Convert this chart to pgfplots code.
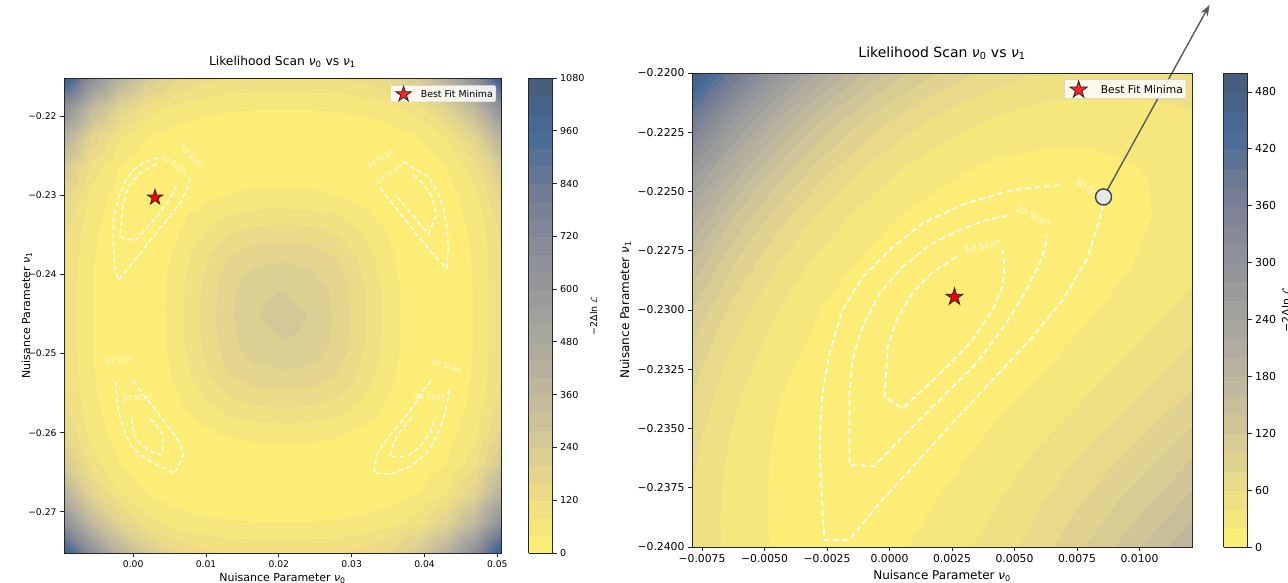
\documentclass[border=0pt]{standalone}
\usepackage{fontspec}
\setmainfont{DejaVu Sans}
\usepackage{pgfplots}
\pgfplotsset{compat=1.18}
\usetikzlibrary{arrows.meta}

% cividis reversed, seen through alpha 0.72 on white
\pgfplotsset{
  colormap={civr}{rgb255=(252,237,118) rgb255=(236,220,137) rgb255=(213,202,149)
    rgb255=(191,184,156) rgb255=(171,169,159) rgb255=(152,153,154) rgb255=(134,138,150)
    rgb255=(112,123,148) rgb255=(71,108,151) rgb255=(71,94,127)},
  lkh/.style={scale only axis, axis on top, colormap name=civr, tick pos=left,
    scaled ticks=false, tick align=outside, major tick length=4pt,
    tick style={black!85, line width=0.8pt}, axis line style={black!85, line width=0.8pt},
    clip mode=individual, legend cell align=left},
  cbar/.style={scale only axis, scaled ticks=false,
    ytick pos=right, yticklabel pos=right, tick align=outside, major tick length=4pt,
    tick style={black!85, line width=0.8pt}, axis line style={black!85, line width=0.8pt}},
  scan/.style={white, opacity=0.92, line width=1.5pt, dash pattern=on 5pt off 3pt, forget plot},
}
\pgfdeclareplotmark{fstar}{%
  \pgfpathmoveto{\pgfpointpolar{90}{\pgfplotmarksize}}%
  \pgfpathlineto{\pgfpointpolar{126}{0.382\pgfplotmarksize}}%
  \pgfpathlineto{\pgfpointpolar{162}{\pgfplotmarksize}}%
  \pgfpathlineto{\pgfpointpolar{198}{0.382\pgfplotmarksize}}%
  \pgfpathlineto{\pgfpointpolar{234}{\pgfplotmarksize}}%
  \pgfpathlineto{\pgfpointpolar{270}{0.382\pgfplotmarksize}}%
  \pgfpathlineto{\pgfpointpolar{306}{\pgfplotmarksize}}%
  \pgfpathlineto{\pgfpointpolar{342}{0.382\pgfplotmarksize}}%
  \pgfpathlineto{\pgfpointpolar{18}{\pgfplotmarksize}}%
  \pgfpathlineto{\pgfpointpolar{54}{0.382\pgfplotmarksize}}%
  \pgfpathclose\pgfusepathqfillstroke}

\begin{document}
\begin{tikzpicture}[x=1pt,y=1pt]

% ---------------- left: full scan ----------------
\begin{scope}[xshift=64pt, yshift=30pt]
\begin{axis}[lkh, anchor=south west, width=437pt, height=475pt,
  xmin=-0.0095, xmax=0.0505, ymin=-0.2752, ymax=-0.2152,
  point meta min=0, point meta max=1080,
  xtick={0,0.01,0.02,0.03,0.04,0.05}, xticklabels={0.00,0.01,0.02,0.03,0.04,0.05},
  ytick={-0.27,-0.26,-0.25,-0.24,-0.23,-0.22},
  yticklabels={−0.27,−0.26,−0.25,−0.24,−0.23,−0.22},
  ticklabel style={font=\fontsize{9.2}{10}\selectfont},
  colorbar sampled, colorbar style={cbar, at={(parent axis.north east)}, anchor=north west,
    xshift=19pt, width=24pt, height=475pt, samples=28,
    ytick={0,120,240,360,480,600,720,840,960,1080},
    yticklabels={0,120,240,360,480,600,720,840,960,1080},
    yticklabel style={font=\fontsize{9.6}{10}\selectfont}},
  legend style={at={(0.9886,0.985)}, anchor=north east,
    draw=black!20, fill=white, fill opacity=0.85, text opacity=1, rounded corners=2pt,
    font=\fontsize{9.4}{10}\selectfont, inner xsep=1pt, inner ysep=1pt},
  legend image code/.code={\path (0pt,-4pt) (27pt,4pt);
    \draw[#1] plot coordinates {(12pt,0pt)};},
]
\addplot[contour filled={number=27}, point meta=explicit, mesh/rows=17, mesh/cols=17, forget plot]
  table[row sep=\\, x index=0, y index=1, meta index=2] {
-0.0095 -0.2752 1070\\ -0.00575 -0.2752 671\\ -0.002 -0.2752 412\\ 0.00175 -0.2752 255\\ 0.0055 -0.2752 171\\ 0.00925 -0.2752 132\\ 0.013 -0.2752 117\\ 0.01675 -0.2752 113\\ 0.0205 -0.2752 113\\ 0.02425 -0.2752 113\\ 0.028 -0.2752 117\\ 0.03175 -0.2752 132\\ 0.0355 -0.2752 171\\ 0.03925 -0.2752 255\\ 0.043 -0.2752 412\\ 0.04675 -0.2752 671\\ 0.0505 -0.2752 1070\\
-0.0095 -0.27145 671\\ -0.00575 -0.27145 366\\ -0.002 -0.27145 190\\ 0.00175 -0.27145 102\\ 0.0055 -0.27145 67\\ 0.00925 -0.27145 52\\ 0.013 -0.27145 45\\ 0.01675 -0.27145 42\\ 0.0205 -0.27145 42\\ 0.02425 -0.27145 42\\ 0.028 -0.27145 45\\ 0.03175 -0.27145 52\\ 0.0355 -0.27145 67\\ 0.03925 -0.27145 102\\ 0.043 -0.27145 190\\ 0.04675 -0.27145 366\\ 0.0505 -0.27145 671\\
-0.0095 -0.2677 412\\ -0.00575 -0.2677 190\\ -0.002 -0.2677 83\\ 0.00175 -0.2677 41\\ 0.0055 -0.2677 21\\ 0.00925 -0.2677 11\\ 0.013 -0.2677 7\\ 0.01675 -0.2677 6\\ 0.0205 -0.2677 5\\ 0.02425 -0.2677 6\\ 0.028 -0.2677 7\\ 0.03175 -0.2677 11\\ 0.0355 -0.2677 21\\ 0.03925 -0.2677 41\\ 0.043 -0.2677 83\\ 0.04675 -0.2677 190\\ 0.0505 -0.2677 412\\
-0.0095 -0.26395 255\\ -0.00575 -0.26395 102\\ -0.002 -0.26395 41\\ 0.00175 -0.26395 13\\ 0.0055 -0.26395 2\\ 0.00925 -0.26395 0\\ 0.013 -0.26395 4\\ 0.01675 -0.26395 6\\ 0.0205 -0.26395 6\\ 0.02425 -0.26395 6\\ 0.028 -0.26395 4\\ 0.03175 -0.26395 0\\ 0.0355 -0.26395 2\\ 0.03925 -0.26395 13\\ 0.043 -0.26395 41\\ 0.04675 -0.26395 102\\ 0.0505 -0.26395 255\\
-0.0095 -0.2602 171\\ -0.00575 -0.2602 67\\ -0.002 -0.2602 21\\ 0.00175 -0.2602 2\\ 0.0055 -0.2602 5\\ 0.00925 -0.2602 26\\ 0.013 -0.2602 44\\ 0.01675 -0.2602 53\\ 0.0205 -0.2602 54\\ 0.02425 -0.2602 53\\ 0.028 -0.2602 44\\ 0.03175 -0.2602 26\\ 0.0355 -0.2602 5\\ 0.03925 -0.2602 2\\ 0.043 -0.2602 21\\ 0.04675 -0.2602 67\\ 0.0505 -0.2602 171\\
-0.0095 -0.25645 132\\ -0.00575 -0.25645 52\\ -0.002 -0.25645 11\\ 0.00175 -0.25645 0\\ 0.0055 -0.25645 26\\ 0.00925 -0.25645 68\\ 0.013 -0.25645 104\\ 0.01675 -0.25645 121\\ 0.0205 -0.25645 124\\ 0.02425 -0.25645 121\\ 0.028 -0.25645 104\\ 0.03175 -0.25645 68\\ 0.0355 -0.25645 26\\ 0.03925 -0.25645 0\\ 0.043 -0.25645 11\\ 0.04675 -0.25645 52\\ 0.0505 -0.25645 132\\
-0.0095 -0.2527 117\\ -0.00575 -0.2527 45\\ -0.002 -0.2527 7\\ 0.00175 -0.2527 4\\ 0.0055 -0.2527 44\\ 0.00925 -0.2527 104\\ 0.013 -0.2527 157\\ 0.01675 -0.2527 186\\ 0.0205 -0.2527 191\\ 0.02425 -0.2527 186\\ 0.028 -0.2527 157\\ 0.03175 -0.2527 104\\ 0.0355 -0.2527 44\\ 0.03925 -0.2527 4\\ 0.043 -0.2527 7\\ 0.04675 -0.2527 45\\ 0.0505 -0.2527 117\\
-0.0095 -0.24895 113\\ -0.00575 -0.24895 42\\ -0.002 -0.24895 6\\ 0.00175 -0.24895 6\\ 0.0055 -0.24895 53\\ 0.00925 -0.24895 121\\ 0.013 -0.24895 186\\ 0.01675 -0.24895 228\\ 0.0205 -0.24895 238\\ 0.02425 -0.24895 228\\ 0.028 -0.24895 186\\ 0.03175 -0.24895 121\\ 0.0355 -0.24895 53\\ 0.03925 -0.24895 6\\ 0.043 -0.24895 6\\ 0.04675 -0.24895 42\\ 0.0505 -0.24895 113\\
-0.0095 -0.2452 113\\ -0.00575 -0.2452 42\\ -0.002 -0.2452 5\\ 0.00175 -0.2452 6\\ 0.0055 -0.2452 54\\ 0.00925 -0.2452 124\\ 0.013 -0.2452 191\\ 0.01675 -0.2452 238\\ 0.0205 -0.2452 255\\ 0.02425 -0.2452 238\\ 0.028 -0.2452 191\\ 0.03175 -0.2452 124\\ 0.0355 -0.2452 54\\ 0.03925 -0.2452 6\\ 0.043 -0.2452 5\\ 0.04675 -0.2452 42\\ 0.0505 -0.2452 113\\
-0.0095 -0.24145 113\\ -0.00575 -0.24145 42\\ -0.002 -0.24145 6\\ 0.00175 -0.24145 6\\ 0.0055 -0.24145 53\\ 0.00925 -0.24145 121\\ 0.013 -0.24145 186\\ 0.01675 -0.24145 228\\ 0.0205 -0.24145 238\\ 0.02425 -0.24145 228\\ 0.028 -0.24145 186\\ 0.03175 -0.24145 121\\ 0.0355 -0.24145 53\\ 0.03925 -0.24145 6\\ 0.043 -0.24145 6\\ 0.04675 -0.24145 42\\ 0.0505 -0.24145 113\\
-0.0095 -0.2377 117\\ -0.00575 -0.2377 45\\ -0.002 -0.2377 7\\ 0.00175 -0.2377 4\\ 0.0055 -0.2377 44\\ 0.00925 -0.2377 104\\ 0.013 -0.2377 157\\ 0.01675 -0.2377 186\\ 0.0205 -0.2377 191\\ 0.02425 -0.2377 186\\ 0.028 -0.2377 157\\ 0.03175 -0.2377 104\\ 0.0355 -0.2377 44\\ 0.03925 -0.2377 4\\ 0.043 -0.2377 7\\ 0.04675 -0.2377 45\\ 0.0505 -0.2377 117\\
-0.0095 -0.23395 132\\ -0.00575 -0.23395 52\\ -0.002 -0.23395 11\\ 0.00175 -0.23395 0\\ 0.0055 -0.23395 26\\ 0.00925 -0.23395 68\\ 0.013 -0.23395 104\\ 0.01675 -0.23395 121\\ 0.0205 -0.23395 124\\ 0.02425 -0.23395 121\\ 0.028 -0.23395 104\\ 0.03175 -0.23395 68\\ 0.0355 -0.23395 26\\ 0.03925 -0.23395 0\\ 0.043 -0.23395 11\\ 0.04675 -0.23395 52\\ 0.0505 -0.23395 132\\
-0.0095 -0.2302 171\\ -0.00575 -0.2302 67\\ -0.002 -0.2302 21\\ 0.00175 -0.2302 2\\ 0.0055 -0.2302 5\\ 0.00925 -0.2302 26\\ 0.013 -0.2302 44\\ 0.01675 -0.2302 53\\ 0.0205 -0.2302 54\\ 0.02425 -0.2302 53\\ 0.028 -0.2302 44\\ 0.03175 -0.2302 26\\ 0.0355 -0.2302 5\\ 0.03925 -0.2302 2\\ 0.043 -0.2302 21\\ 0.04675 -0.2302 67\\ 0.0505 -0.2302 171\\
-0.0095 -0.22645 255\\ -0.00575 -0.22645 102\\ -0.002 -0.22645 41\\ 0.00175 -0.22645 13\\ 0.0055 -0.22645 2\\ 0.00925 -0.22645 0\\ 0.013 -0.22645 4\\ 0.01675 -0.22645 6\\ 0.0205 -0.22645 6\\ 0.02425 -0.22645 6\\ 0.028 -0.22645 4\\ 0.03175 -0.22645 0\\ 0.0355 -0.22645 2\\ 0.03925 -0.22645 13\\ 0.043 -0.22645 41\\ 0.04675 -0.22645 102\\ 0.0505 -0.22645 255\\
-0.0095 -0.2227 412\\ -0.00575 -0.2227 190\\ -0.002 -0.2227 83\\ 0.00175 -0.2227 41\\ 0.0055 -0.2227 21\\ 0.00925 -0.2227 11\\ 0.013 -0.2227 7\\ 0.01675 -0.2227 6\\ 0.0205 -0.2227 5\\ 0.02425 -0.2227 6\\ 0.028 -0.2227 7\\ 0.03175 -0.2227 11\\ 0.0355 -0.2227 21\\ 0.03925 -0.2227 41\\ 0.043 -0.2227 83\\ 0.04675 -0.2227 190\\ 0.0505 -0.2227 412\\
-0.0095 -0.21895 671\\ -0.00575 -0.21895 366\\ -0.002 -0.21895 190\\ 0.00175 -0.21895 102\\ 0.0055 -0.21895 67\\ 0.00925 -0.21895 52\\ 0.013 -0.21895 45\\ 0.01675 -0.21895 42\\ 0.0205 -0.21895 42\\ 0.02425 -0.21895 42\\ 0.028 -0.21895 45\\ 0.03175 -0.21895 52\\ 0.0355 -0.21895 67\\ 0.03925 -0.21895 102\\ 0.043 -0.21895 190\\ 0.04675 -0.21895 366\\ 0.0505 -0.21895 671\\
-0.0095 -0.2152 1070\\ -0.00575 -0.2152 671\\ -0.002 -0.2152 412\\ 0.00175 -0.2152 255\\ 0.0055 -0.2152 171\\ 0.00925 -0.2152 132\\ 0.013 -0.2152 117\\ 0.01675 -0.2152 113\\ 0.0205 -0.2152 113\\ 0.02425 -0.2152 113\\ 0.028 -0.2152 117\\ 0.03175 -0.2152 132\\ 0.0355 -0.2152 171\\ 0.03925 -0.2152 255\\ 0.043 -0.2152 412\\ 0.04675 -0.2152 671\\ 0.0505 -0.2152 1070\\
};
% scan contours, top left
\addplot[scan] coordinates {(0.003447,-0.225267) (0.00162,-0.22577) (0.00001,-0.22682) (-0.001126,-0.2283) (-0.002046,-0.2304) (-0.002732,-0.23314) (-0.002732,-0.23651) (-0.002499,-0.23904) (-0.002046,-0.24072) (-0.000893,-0.23945) (0.000934,-0.23734) (0.00276,-0.23525) (0.0046,-0.23314) (0.006426,-0.23103) (0.007566,-0.22893) (0.0078,-0.22767)};
\addplot[scan] coordinates {(0.003227,-0.22598) (0.000934,-0.22724) (-0.000673,-0.22893) (-0.001359,-0.23103) (-0.001579,-0.23314) (-0.001812,-0.23525) (0.000247,-0.23575) (0.00162,-0.2344) (0.003227,-0.23272) (0.0046,-0.23103) (0.00574,-0.22935) (0.005973,-0.2285)};
% top right
\addplot[scan] coordinates {(0.037087,-0.22577) (0.038007,-0.22632) (0.04052,-0.22767) (0.041674,-0.22935) (0.04258,-0.23146) (0.043047,-0.23398) (0.043267,-0.23651) (0.043047,-0.23924) (0.041893,-0.23819) (0.0403,-0.23651) (0.03846,-0.2344) (0.036634,-0.23229) (0.034808,-0.23019) (0.033888,-0.22893)};
\addplot[scan] coordinates {(0.03846,-0.22745) (0.039833,-0.2285) (0.040987,-0.23019) (0.041674,-0.23251) (0.04052,-0.2349) (0.038927,-0.23314) (0.037321,-0.23146) (0.035948,-0.22985)};
% bottom left
\addplot[scan] coordinates {(-0.002362,-0.25356) (-0.002266,-0.25587) (-0.001812,-0.25798) (-0.001126,-0.26008) (-0.000206,-0.26177) (0.001387,-0.26304) (0.00368,-0.2643) (0.00574,-0.26513) (0.006879,-0.26282) (0.006426,-0.26134) (0.005506,-0.26008) (0.004133,-0.2584) (0.00276,-0.25672) (0.001387,-0.25524) (-0.000206,-0.25313)};
\addplot[scan] coordinates {(-0.000206,-0.25819) (0.00001,-0.26008) (0.000934,-0.26134) (0.002307,-0.2624) (0.003913,-0.26282) (0.004133,-0.26134) (0.003913,-0.26008) (0.002993,-0.25882) (0.002073,-0.25798)};
% bottom right
\addplot[scan] coordinates {(0.040891,-0.25347) (0.039834,-0.25461) (0.03846,-0.25672) (0.036634,-0.25882) (0.035028,-0.26051) (0.033655,-0.2624) (0.033202,-0.26387) (0.033064,-0.26513) (0.035495,-0.26522) (0.038007,-0.2643) (0.0403,-0.26261) (0.041893,-0.26008) (0.042813,-0.25755) (0.043267,-0.25546) (0.043404,-0.25427)};
\addplot[scan] coordinates {(0.038241,-0.25806) (0.036634,-0.25988) (0.035714,-0.26134) (0.035261,-0.26304) (0.037554,-0.26304) (0.03938,-0.26177) (0.040753,-0.26008) (0.041206,-0.25882) (0.04144,-0.25806)};
\begin{scope}[every node/.style={text=white, opacity=0.8, font=\fontsize{7.5}{8}\selectfont}]
\node[rotate=-43] at (axis cs:0.008115,-0.22514) {3\textit{σ} Scan};
\node[rotate=-36] at (axis cs:0.005602,-0.22606) {2\textit{σ} Scan};
\node[rotate=31] at (axis cs:0.033888,-0.22543) {3\textit{σ} Scan};
\node[rotate=35] at (axis cs:0.035165,-0.22724) {2\textit{σ} Scan};
\node[rotate=8] at (axis cs:-0.00195,-0.25082) {3\textit{σ} Scan};
\node[rotate=5] at (axis cs:0.000563,-0.25553) {2\textit{σ} Scan};
\node[rotate=-18] at (axis cs:0.043047,-0.25154) {3\textit{σ} Scan};
\node[rotate=0] at (axis cs:0.040753,-0.25546) {2\textit{σ} Scan};
\end{scope}
\addplot[only marks, mark=fstar, mark size=8pt, mark options={fill=red, draw=black!85, line width=0.8pt}]
  coordinates {(0.003,-0.2303)};
\addlegendentry{Best Fit Minima}
\end{axis}
\end{scope}

% ---------------- right: zoomed scan ----------------
\begin{scope}[xshift=692pt, yshift=36pt]
\begin{axis}[lkh, anchor=south west, width=500pt, height=474pt,
  xmin=-0.0079, xmax=0.0121, ymin=-0.24, ymax=-0.22,
  point meta min=0, point meta max=500,
  xtick={-0.0075,-0.005,-0.0025,0,0.0025,0.005,0.0075,0.01},
  xticklabels={−0.0075,−0.0050,−0.0025,0.0000,0.0025,0.0050,0.0075,0.0100},
  ytick={-0.24,-0.2375,-0.235,-0.2325,-0.23,-0.2275,-0.225,-0.2225,-0.22},
  yticklabels={−0.2400,−0.2375,−0.2350,−0.2325,−0.2300,−0.2275,−0.2250,−0.2225,−0.2200},
  ticklabel style={font=\fontsize{10.8}{12}\selectfont},
  colorbar sampled, colorbar style={cbar, at={(parent axis.north east)}, anchor=north west,
    xshift=23pt, width=24pt, height=474pt, samples=26,
    ytick={0,60,120,180,240,300,360,420,480},
    yticklabels={0,60,120,180,240,300,360,420,480},
    yticklabel style={font=\fontsize{11}{12}\selectfont}},
  legend style={at={(0.988,0.987)}, anchor=north east,
    draw=black!20, fill=white, fill opacity=0.85, text opacity=1, rounded corners=2pt,
    font=\fontsize{10.7}{12}\selectfont, inner xsep=1pt, inner ysep=1.5pt},
  legend image code/.code={\path (0pt,-4pt) (33pt,4pt);
    \draw[#1] plot coordinates {(13pt,0pt)};},
]
\addplot[contour filled={number=25}, point meta=explicit, mesh/rows=11, mesh/cols=13, forget plot]
  table[row sep=\\, x index=0, y index=1, meta index=2] {
-0.008 -0.22 499\\ -0.0063 -0.22 388\\ -0.0046 -0.22 291\\ -0.0029 -0.22 218\\ -0.0012 -0.22 163\\ 0.0005 -0.22 123\\ 0.0022 -0.22 94\\ 0.0039 -0.22 74\\ 0.0056 -0.22 61\\ 0.0073 -0.22 54\\ 0.009 -0.22 51\\ 0.0107 -0.22 52\\ 0.0124 -0.22 56\\
-0.008 -0.222 383\\ -0.0063 -0.222 279\\ -0.0046 -0.222 201\\ -0.0029 -0.222 144\\ -0.0012 -0.222 102\\ 0.0005 -0.222 72\\ 0.0022 -0.222 52\\ 0.0039 -0.222 39\\ 0.0056 -0.222 31\\ 0.0073 -0.222 28\\ 0.009 -0.222 29\\ 0.0107 -0.222 32\\ 0.0124 -0.222 38\\
-0.008 -0.224 285\\ -0.0063 -0.224 200\\ -0.0046 -0.224 138\\ -0.0029 -0.224 93\\ -0.0012 -0.224 61\\ 0.0005 -0.224 40\\ 0.0022 -0.224 26\\ 0.0039 -0.224 17\\ 0.0056 -0.224 14\\ 0.0073 -0.224 14\\ 0.009 -0.224 17\\ 0.0107 -0.224 22\\ 0.0124 -0.224 30\\
-0.008 -0.226 213\\ -0.0063 -0.226 143\\ -0.0046 -0.226 93\\ -0.0029 -0.226 58\\ -0.0012 -0.226 35\\ 0.0005 -0.226 19\\ 0.0022 -0.226 10\\ 0.0039 -0.226 6\\ 0.0056 -0.226 5\\ 0.0073 -0.226 8\\ 0.009 -0.226 13\\ 0.0107 -0.226 21\\ 0.0124 -0.226 30\\
-0.008 -0.228 160\\ -0.0063 -0.228 102\\ -0.0046 -0.228 62\\ -0.0029 -0.228 35\\ -0.0012 -0.228 18\\ 0.0005 -0.228 7\\ 0.0022 -0.228 2\\ 0.0039 -0.228 1\\ 0.0056 -0.228 3\\ 0.0073 -0.228 8\\ 0.009 -0.228 16\\ 0.0107 -0.228 26\\ 0.0124 -0.228 37\\
-0.008 -0.23 122\\ -0.0063 -0.23 74\\ -0.0046 -0.23 42\\ -0.0029 -0.23 21\\ -0.0012 -0.23 9\\ 0.0005 -0.23 2\\ 0.0022 -0.23 0\\ 0.0039 -0.23 2\\ 0.0056 -0.23 6\\ 0.0073 -0.23 14\\ 0.009 -0.23 24\\ 0.0107 -0.23 36\\ 0.0124 -0.23 50\\
-0.008 -0.232 95\\ -0.0063 -0.232 55\\ -0.0046 -0.232 29\\ -0.0029 -0.232 13\\ -0.0012 -0.232 4\\ 0.0005 -0.232 1\\ 0.0022 -0.232 2\\ 0.0039 -0.232 7\\ 0.0056 -0.232 14\\ 0.0073 -0.232 24\\ 0.009 -0.232 37\\ 0.0107 -0.232 51\\ 0.0124 -0.232 68\\
-0.008 -0.234 77\\ -0.0063 -0.234 43\\ -0.0046 -0.234 21\\ -0.0029 -0.234 9\\ -0.0012 -0.234 3\\ 0.0005 -0.234 3\\ 0.0022 -0.234 7\\ 0.0039 -0.234 15\\ 0.0056 -0.234 25\\ 0.0073 -0.234 38\\ 0.009 -0.234 54\\ 0.0107 -0.234 72\\ 0.0124 -0.234 92\\
-0.008 -0.236 66\\ -0.0063 -0.236 36\\ -0.0046 -0.236 18\\ -0.0029 -0.236 8\\ -0.0012 -0.236 5\\ 0.0005 -0.236 7\\ 0.0022 -0.236 14\\ 0.0039 -0.236 24\\ 0.0056 -0.236 39\\ 0.0073 -0.236 56\\ 0.009 -0.236 75\\ 0.0107 -0.236 96\\ 0.0124 -0.236 121\\
-0.008 -0.238 60\\ -0.0063 -0.238 33\\ -0.0046 -0.238 17\\ -0.0029 -0.238 9\\ -0.0012 -0.238 9\\ 0.0005 -0.238 13\\ 0.0022 -0.238 22\\ 0.0039 -0.238 35\\ 0.0056 -0.238 53\\ 0.0073 -0.238 74\\ 0.009 -0.238 98\\ 0.0107 -0.238 123\\ 0.0124 -0.238 152\\
-0.008 -0.24 58\\ -0.0063 -0.24 33\\ -0.0046 -0.24 18\\ -0.0029 -0.24 12\\ -0.0012 -0.24 13\\ 0.0005 -0.24 19\\ 0.0022 -0.24 30\\ 0.0039 -0.24 46\\ 0.0056 -0.24 66\\ 0.0073 -0.24 92\\ 0.009 -0.24 121\\ 0.0107 -0.24 152\\ 0.0124 -0.24 184\\
};
\addplot[scan, line width=1.8pt, dash pattern=on 6pt off 3.5pt] coordinates {(0.0068,-0.22473) (0.00492,-0.22494) (0.00308,-0.22549) (0.00132,-0.22633) (0,-0.22747) (-0.00108,-0.22861) (-0.00188,-0.23) (-0.0024,-0.23181) (-0.00268,-0.2335) (-0.0028,-0.23561) (-0.00272,-0.23772) (-0.0026,-0.2397) (-0.0016,-0.2397) (-0.0004,-0.23814) (0.00092,-0.23662) (0.00252,-0.23477) (0.00412,-0.23295) (0.00572,-0.23114) (0.00692,-0.22958) (0.00788,-0.22789) (0.0084,-0.2262) (0.0086,-0.22523)};
\addplot[scan, line width=1.8pt, dash pattern=on 6pt off 3.5pt] coordinates {(0.00472,-0.22603) (0.00388,-0.2262) (0.0028,-0.22662) (0.0016,-0.22726) (0.00052,-0.22819) (-0.0004,-0.22928) (-0.00108,-0.23072) (-0.00148,-0.23211) (-0.0016,-0.2335) (-0.0016,-0.23494) (-0.0016,-0.23654) (-0.0006,-0.23658) (0.00028,-0.23561) (0.0012,-0.23464) (0.00228,-0.2335) (0.00348,-0.23224) (0.00468,-0.23055) (0.00548,-0.22916) (0.00612,-0.22776) (0.00632,-0.22684)};
\addplot[scan, line width=1.8pt, dash pattern=on 6pt off 3.5pt] coordinates {(0.00268,-0.22776) (0.00172,-0.2284) (0.00092,-0.22928) (0.00028,-0.23042) (-0.00008,-0.23156) (-0.00012,-0.23241) (-0.0002,-0.23367) (0.00052,-0.23414) (0.00132,-0.23338) (0.00228,-0.23241) (0.00332,-0.23127) (0.00412,-0.23) (0.00452,-0.22903) (0.0046,-0.22819) (0.00452,-0.22747)};
\begin{scope}[every node/.style={text=white, opacity=0.8, font=\fontsize{9.3}{10}\selectfont}]
\node[rotate=12] at (axis cs:0.00372,-0.2273) {1\textit{σ} Scan};
\node[rotate=-24] at (axis cs:0.00576,-0.22603) {2\textit{σ} Scan};
\node[rotate=-30] at (axis cs:0.00808,-0.22494) {3\textit{σ} Scan};
\end{scope}
\addplot[only marks, mark=fstar, mark size=9pt, mark options={fill=red, draw=black!85, line width=0.8pt}]
  coordinates {(0.0026,-0.22945)};
\addlegendentry{Best Fit Minima}
\draw[black!65, line width=1.4pt, -{Stealth[length=11pt, width=8pt]}]
  (axis cs:0.00856,-0.22523) -- (axis cs:0.0128,-0.21713);
\addplot[only marks, mark=*, mark size=8pt, forget plot,
  mark options={fill=black!9, draw=black!75, line width=1.4pt}]
  coordinates {(0.00856,-0.22523)};
\end{axis}
\end{scope}

% titles and labels
\node[anchor=base, font=\fontsize{12.3}{14}\selectfont] at (282.5,517.3)
  {Likelihood Scan \textit{ν}\textsubscript{0} vs \textit{ν}\textsubscript{1}};
\node[anchor=base, font=\fontsize{14}{16}\selectfont] at (942,525.7)
  {Likelihood Scan \textit{ν}\textsubscript{0} vs \textit{ν}\textsubscript{1}};
\node[anchor=base, font=\fontsize{11}{12}\selectfont] at (282.5,1.5)
  {Nuisance Parameter \textit{ν}\textsubscript{0}};
\node[anchor=base, font=\fontsize{12}{13}\selectfont] at (942,3)
  {Nuisance Parameter \textit{ν}\textsubscript{0}};
\node[anchor=base, rotate=90, font=\fontsize{11}{12}\selectfont] at (30,267.5)
  {Nuisance Parameter \textit{ν}\textsubscript{1}};
\node[anchor=base, rotate=90, font=\fontsize{12}{13}\selectfont] at (629,273)
  {Nuisance Parameter \textit{ν}\textsubscript{1}};
\node[anchor=base, rotate=90, font=\fontsize{9.5}{10}\selectfont] at (597,267)
  {−2Δln $\mathcal{L}$};
\node[anchor=base, rotate=90, font=\fontsize{11}{12}\selectfont] at (1290,273)
  {−2Δln $\mathcal{L}$};

\pgfresetboundingbox
\path[use as bounding box] (0,0) rectangle (1288,583);
\end{tikzpicture}
\end{document}
